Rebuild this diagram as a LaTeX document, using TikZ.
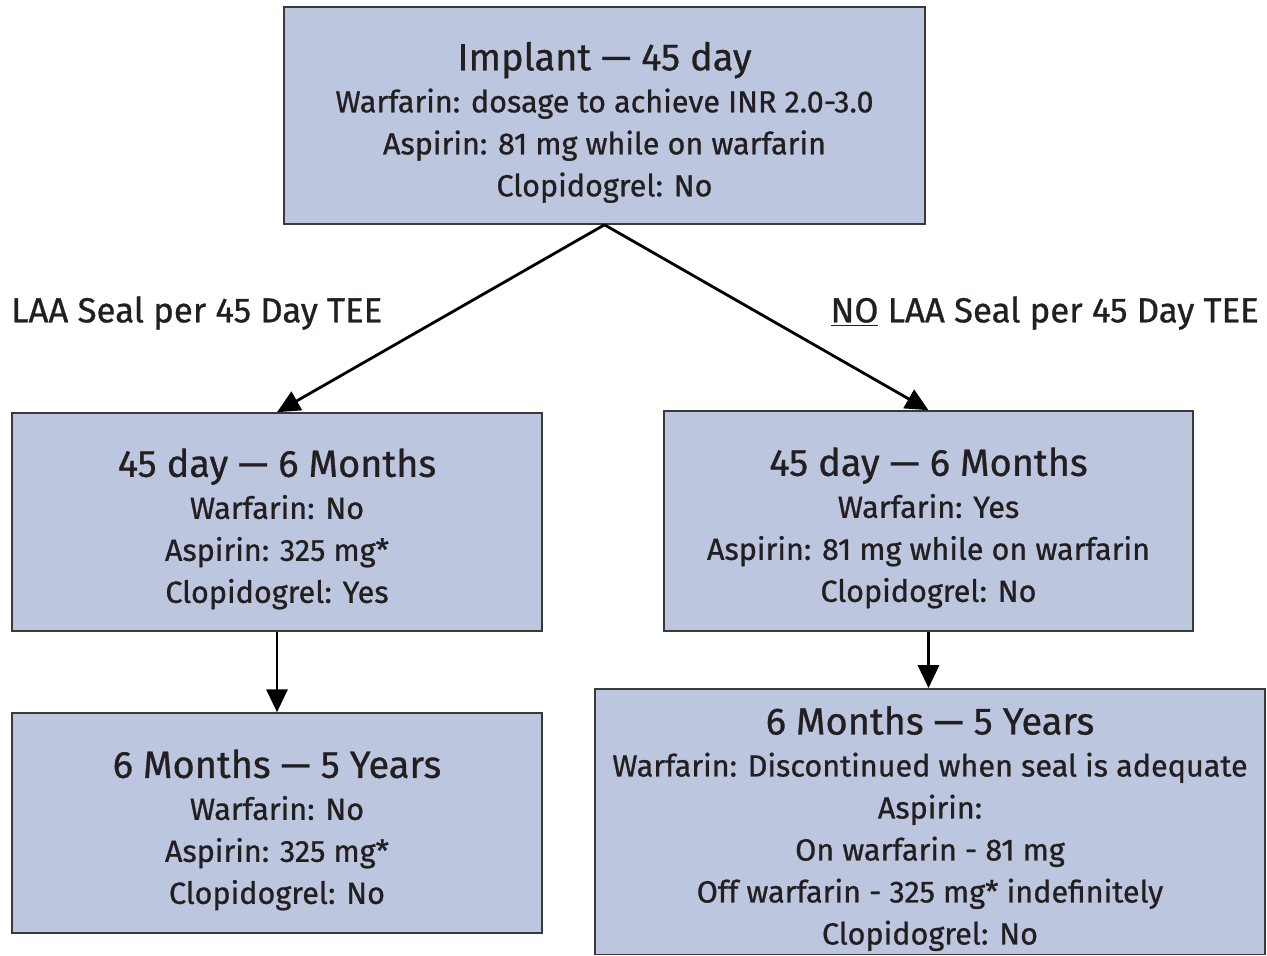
\documentclass[tikz,border=0pt]{standalone}
\usepackage{fontspec}
\setmainfont{Fira Sans}[FakeBold=0.8]
\usepackage{xcolor}
\usetikzlibrary{arrows.meta, positioning}
\definecolor{boxfill}{HTML}{BCC6DE}
\definecolor{boxline}{HTML}{3A3A3A}
\definecolor{inktext}{HTML}{231F20}
\newcommand{\phasetitle}[1]{{\fontsize{21.6}{24}\selectfont\rule{0pt}{24pt}#1}\\[0pt]}

\begin{document}
\begin{tikzpicture}[
  phase/.style={rectangle, fill=boxfill, draw=boxline, line width=0.9pt, text=inktext,
    align=center, font=\fontsize{17.4}{23.9}\selectfont},
  branch/.style={text=inktext, font=\fontsize{19.8}{22}\selectfont},
  flow/.style={-{Triangle[length=13pt,width=12pt]}, line width=1.6pt, draw=black}
]
  \useasboundingbox (0,0) rectangle (25.34,-19.1);

  \node[phase, minimum width=12.82cm, minimum height=4.34cm] (implant) at (12.09, -2.31)
    {\phasetitle{Implant \textemdash\ 45 day}Warfarin: dosage to achieve INR 2.0-3.0\\Aspirin: 81 mg while on warfarin\\Clopidogrel: No};

  \node[phase, minimum width=10.6cm, minimum height=4.36cm] (sealmid) at (5.54, -10.44)
    {\phasetitle{45 day \textemdash\ 6 Months}Warfarin: No\\Aspirin: 325 mg*\\Clopidogrel: Yes};
  \node[phase, minimum width=10.58cm, minimum height=4.4cm] (nosealmid) at (18.57, -10.42)
    {\phasetitle{45 day \textemdash\ 6 Months}Warfarin: Yes\\Aspirin: 81 mg while on warfarin\\Clopidogrel: No};

  \node[phase, minimum width=10.6cm, minimum height=4.4cm] (seallate) at (5.54, -16.46)
    {\phasetitle{6 Months \textemdash\ 5 Years}Warfarin: No\\Aspirin: 325 mg*\\Clopidogrel: No};
  \node[phase, minimum width=13.4cm, inner ysep=2pt, anchor=north] (noseallate) at (18.6, -13.76)
    {\phasetitle{6 Months \textemdash\ 5 Years}Warfarin: Discontinued when seal is adequate\\Aspirin:\\On warfarin - 81 mg\\Off warfarin - 325 mg* indefinitely\\Clopidogrel: No};

  \node[branch, anchor=west] (seallabel) at (0.1, -6.26) {LAA Seal per 45 Day TEE};
  \node[branch, anchor=east] (nosealabel) at (25.3, -6.26) {\underline{NO} LAA Seal per 45 Day TEE};

  \draw[flow] (implant.south) -- (sealmid.north);
  \draw[flow] (implant.south) -- (nosealmid.north);
  \draw[flow] (sealmid.south) -- (seallate.north);
  \draw[flow] (nosealmid.south) -- (nosealmid.south |- noseallate.north);
\end{tikzpicture}
\end{document}
